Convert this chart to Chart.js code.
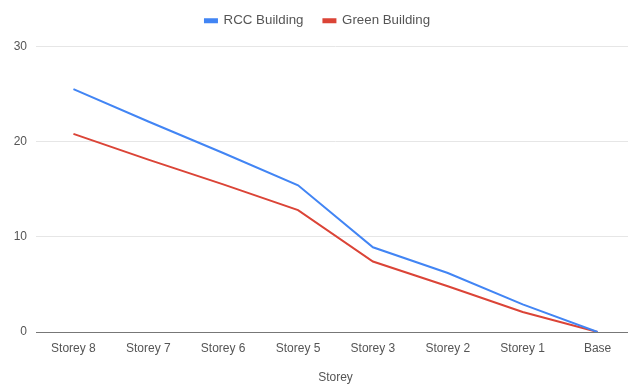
<!DOCTYPE html>
<html>
<head>
<meta charset="utf-8">
<script src="https://cdn.jsdelivr.net/npm/chart.js@4.4.1/dist/chart.umd.min.js"></script>
<style>
  html, body { margin: 0; padding: 0; background: #fff; overflow: hidden; }
  #wrap { width: 640px; height: 385px; position: relative; }
</style>
</head>
<body>
<div id="wrap"><canvas id="chart" width="640" height="385"></canvas></div>
<script>
// Storey levels, top floor first
const storeys = ['Storey 8', 'Storey 7', 'Storey 6', 'Storey 5', 'Storey 3', 'Storey 2', 'Storey 1', 'Base'];
// Displacement per storey
const rccBuilding = [25.5, 22.1, 18.8, 15.4, 8.9, 6.2, 2.9, 0];
const greenBuilding = [20.8, 18.1, 15.5, 12.8, 7.4, 4.8, 2.1, 0];
const yTicks = [0, 10, 20, 30];

const FONT = "'Liberation Sans', Arial, sans-serif";

// extra space below the legend
const legendGap = {
  id: 'legendGap',
  beforeInit(chart) {
    const fit = chart.legend.fit;
    chart.legend.fit = function () {
      fit.call(this);
      this.height += 9;
    };
  }
};

new Chart(document.getElementById('chart'), {
  type: 'line',
  data: {
    labels: storeys,
    datasets: [
      {
        label: 'RCC Building',
        data: rccBuilding,
        borderColor: '#4285F4',
        backgroundColor: '#4285F4',
        borderWidth: 2,
        pointRadius: 0,
        tension: 0
      },
      {
        label: 'Green Building',
        data: greenBuilding,
        borderColor: '#DB4437',
        backgroundColor: '#DB4437',
        borderWidth: 2,
        pointRadius: 0,
        tension: 0
      }
    ]
  },
  options: {
    responsive: false,
    animation: false,
    devicePixelRatio: 1,
    layout: { padding: { top: -6, right: 5, left: 0, bottom: 0 } },
    plugins: {
      legend: {
        position: 'top',
        labels: {
          boxWidth: 12,
          boxHeight: 3,
          padding: 20,
          color: '#555',
          font: { family: FONT, size: 13.3 }
        }
      },
      tooltip: { enabled: false }
    },
    scales: {
      x: {
        offset: true,
        grid: { display: false, drawTicks: false },
        border: { display: true, color: '#777', width: 1 },
        ticks: {
          color: '#555',
          padding: 9,
          maxRotation: 0,
          font: { family: FONT, size: 12 }
        },
        title: {
          display: true,
          text: 'Storey',
          color: '#555',
          padding: { top: 10, bottom: 0 },
          font: { family: FONT, size: 12 }
        },
        afterFit(scale) { scale.height = 53; }
      },
      y: {
        min: 0,
        max: 30,
        afterBuildTicks(scale) { scale.ticks = yTicks.map(v => ({ value: v })); },
        grid: {
          drawTicks: false,
          color: ctx => (ctx.tick && ctx.tick.value === 0) ? 'rgba(0,0,0,0)' : '#e6e6e6',
          lineWidth: 1
        },
        border: { display: false },
        ticks: {
          color: '#555',
          padding: 9,
          font: { family: FONT, size: 12 }
        },
        afterFit(scale) { scale.width = 36; }
      }
    }
  },
  plugins: [legendGap]
});
</script>
</body>
</html>
